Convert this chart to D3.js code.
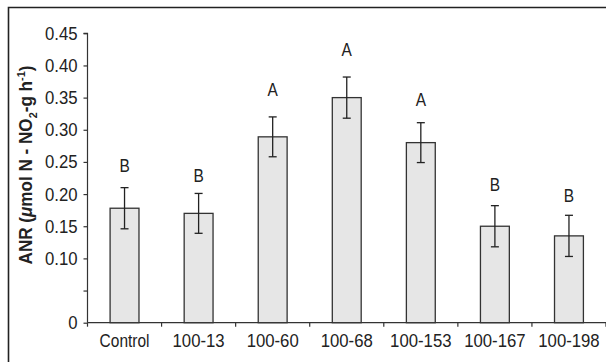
<!DOCTYPE html>
<html>
<head>
<meta charset="utf-8">
<script src="https://cdn.jsdelivr.net/npm/d3@7/dist/d3.min.js"></script>
<style>
  html, body { margin: 0; padding: 0; background: #fff; }
  svg { display: block; }
  text { font-family: "Liberation Sans", Arial, sans-serif; fill: #222; }
</style>
</head>
<body>
<script>
// ---- data ----
const categories = ["Control", "100-13", "100-60", "100-68", "100-153", "100-167", "100-198"];
const means      = [0.178, 0.170, 0.289, 0.350, 0.280, 0.150, 0.135];
const errors     = [0.032, 0.031, 0.031, 0.032, 0.031, 0.032, 0.032];
const letters    = ["B", "B", "A", "A", "A", "B", "B"];
const letterLevel = [0.234, 0.219, 0.352, 0.414, 0.337, 0.205, 0.187];
const yTickValues = [0, 0.05, 0.10, 0.15, 0.20, 0.25, 0.30, 0.35, 0.40, 0.45];
const yTickLabels = ["0", "", "0.10", "0.15", "0.20", "0.25", "0.30", "0.35", "0.40", "0.45"];

const W = 606, H = 362;
const FS = 18;
const svg = d3.select("body").append("svg").attr("width", W).attr("height", H);

// horizontal squeeze imitating a condensed face (digits are wider in it than letters)
function squeeze(str) { return /^[0-9.\-]+$/.test(str) ? 0.93 : 0.86; }
function label(g, tx, ty, str, anchor, size) {
  return g.append("text")
    .attr("transform", `translate(${tx},${ty}) scale(${squeeze(str)},1)`)
    .attr("text-anchor", anchor).attr("font-size", size).text(str);
}

// frame
svg.append("path")
  .attr("d", `M8.5,${H + 2} L8.5,7.5 L${W + 2},7.5`)
  .attr("fill", "none").attr("stroke", "#222").attr("stroke-width", 1.6);

const x0 = 87.5, x1 = 606, yBottom = 322.7, yTop = 33.3;
const x = d3.scaleBand().domain(categories).range([x0, x1]).padding(0);
const y = d3.scaleLinear().domain([0, 0.45]).range([yBottom, yTop]);
const barW = x.bandwidth() * 0.39;

// y axis
const yAxis = d3.axisLeft(y).tickValues(yTickValues).tickFormat("").tickSize(4);
const gy = svg.append("g").attr("transform", `translate(${x0},0)`).call(yAxis);
gy.select(".domain").attr("stroke", "#333").attr("stroke-width", 1.2).attr("d", `M-4,${yTop}H0V${yBottom}`);
gy.selectAll(".tick line").attr("stroke", "#333").attr("stroke-width", 1.2);
gy.selectAll(".tick text").remove();
yTickValues.forEach((v, i) => {
  if (yTickLabels[i]) label(svg, x0 - 10, y(v) + 6.5, yTickLabels[i], "end", FS);
});

// x axis with ticks at band boundaries
const boundaries = categories.map(c => x(c)).concat([x1]);
const gx = svg.append("g").attr("transform", `translate(0,${yBottom})`);
gx.append("line").attr("x1", x0).attr("x2", x1).attr("stroke", "#333").attr("stroke-width", 1.2);
gx.selectAll("line.t").data(boundaries).enter().append("line").attr("class", "t")
  .attr("x1", d => d).attr("x2", d => d).attr("y1", 0).attr("y2", 4)
  .attr("stroke", "#333").attr("stroke-width", 1.2);
categories.forEach(c => label(gx, x(c) + x.bandwidth() / 2, 24.5, c, "middle", FS));

// bars
svg.selectAll("rect.bar").data(categories).enter().append("rect").attr("class", "bar")
  .attr("x", d => x(d) + x.bandwidth() / 2 - barW / 2)
  .attr("y", (d, i) => y(means[i]))
  .attr("width", barW)
  .attr("height", (d, i) => y(0) - y(means[i]))
  .attr("fill", "#e6e6e6").attr("stroke", "#333").attr("stroke-width", 1.3);

// error bars
const eg = svg.append("g").attr("stroke", "#222").attr("stroke-width", 1.3);
categories.forEach((c, i) => {
  const cx = x(c) + x.bandwidth() / 2;
  const hi = y(means[i] + errors[i]), lo = y(means[i] - errors[i]);
  eg.append("line").attr("x1", cx).attr("x2", cx).attr("y1", hi).attr("y2", lo);
  eg.append("line").attr("x1", cx - 4).attr("x2", cx + 4).attr("y1", hi).attr("y2", hi);
  eg.append("line").attr("x1", cx - 4).attr("x2", cx + 4).attr("y1", lo).attr("y2", lo);
});

// letters
categories.forEach((c, i) =>
  label(svg, x(c) + x.bandwidth() / 2, y(letterLevel[i]), letters[i], "middle", FS));

// y title
const t = svg.append("text")
  .attr("transform", `translate(32,${(62 + 268) / 2}) rotate(-90) scale(0.95,1)`)
  .attr("text-anchor", "middle").attr("font-size", 18).attr("font-weight", "bold");
t.append("tspan").text("ANR (");
t.append("tspan").attr("font-style", "italic").text("μ");
t.append("tspan").text("mol N - NO");
t.append("tspan").attr("font-size", 11.5).attr("dy", 4.5).text("2");
t.append("tspan").attr("dy", -4.5).text("-g h");
t.append("tspan").attr("font-size", 11.5).attr("dy", -7).text("-1");
t.append("tspan").attr("dy", 7).text(")");
</script>
</body>
</html>
